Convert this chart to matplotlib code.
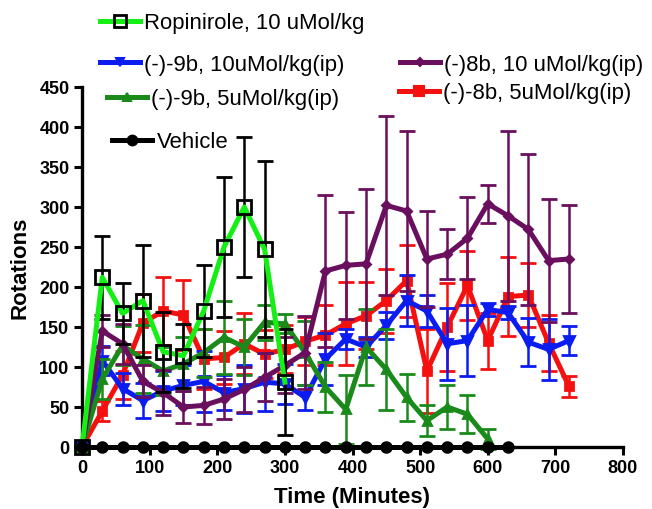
import numpy as np
import matplotlib
matplotlib.use("Agg")
import matplotlib.pyplot as plt
from matplotlib.lines import Line2D

plt.rcParams['font.family'] = ['Liberation Sans', 'DejaVu Sans']

# ---------------- data ----------------
t_full = [0, 30, 60, 90, 120, 150, 180, 210, 240, 270, 300, 330, 360, 390, 420,
          450, 480, 510, 540, 570, 600, 630, 660, 690, 720]
t_ropi = [0, 30, 60, 90, 120, 150, 180, 210, 240, 270, 300]
t_9b5 = [0, 30, 60, 90, 120, 150, 180, 210, 240, 270, 300, 330, 360, 390, 420,
         450, 480, 510, 540, 570, 600]
t_veh = [0, 30, 60, 90, 120, 150, 180, 210, 240, 270, 300, 330, 360, 390, 420,
         450, 480, 510, 540, 570, 600, 630]

ropi_mean = [0, 212, 167, 183, 119, 114, 170, 250, 300, 247, 81]
ropi_err = [0, 52, 38, 70, 50, 40, 57, 88, 88, 110, 66]

b9_10_mean = [0, 108, 73, 58, 70, 77, 82, 68, 73, 81, 79, 62, 110, 135, 125,
              152, 183, 170, 129, 133, 172, 168, 131, 122, 133]
b9_10_err = [0, 18, 20, 22, 25, 25, 38, 22, 30, 36, 25, 16, 33, 12, 12,
             17, 32, 20, 45, 44, 8, 8, 30, 38, 18]

b9_5_mean = [0, 85, 127, 110, 95, 104, 118, 137, 125, 156, 154, 118, 75, 47, 125,
             97, 62, 33, 50, 41, 10]
b9_5_err = [0, 25, 24, 43, 30, 34, 30, 46, 35, 22, 12, 40, 31, 43, 47,
            51, 29, 19, 27, 24, 12]

b8_10_mean = [0, 145, 129, 82, 68, 50, 52, 60, 72, 87, 102, 118, 220, 227, 229,
              302, 295, 235, 241, 261, 304, 289, 272, 233, 235]
b8_10_err = [0, 20, 25, 20, 28, 20, 23, 25, 28, 30, 35, 46, 95, 67, 94,
             112, 100, 60, 31, 51, 24, 106, 94, 77, 68]

b8_5_mean = [0, 45, 90, 155, 170, 165, 110, 112, 129, 116, 122, 132, 140, 154, 164,
             183, 208, 95, 150, 202, 133, 188, 190, 130, 76]
b8_5_err = [0, 12, 30, 36, 42, 44, 37, 33, 38, 30, 30, 30, 38, 52, 42,
            40, 45, 52, 55, 43, 35, 49, 40, 35, 13]

veh_mean = [0] * len(t_veh)

labels = ["Ropinirole, 10 uMol/kg", "(-)-9b, 10uMol/kg(ip)", "(-)-9b, 5uMol/kg(ip)",
          "Vehicle", "(-)8b, 10 uMol/kg(ip)", "(-)-8b, 5uMol/kg(ip)"]

x_ticks = [0, 100, 200, 300, 400, 500, 600, 700, 800]
y_ticks = [0, 50, 100, 150, 200, 250, 300, 350, 400, 450]

# ---------------- styles ----------------
C_ROPI = '#14f014'
C_B9_10 = '#0a1cf0'
C_B9_5 = '#1a8a1a'
C_B8_10 = '#6a0f5e'
C_B8_5 = '#f51010'

W, H = 652, 510
fig = plt.figure(figsize=(W / 100, H / 100), dpi=100)
ax = fig.add_axes([82 / W, 1 - 448 / H, (623 - 82) / W, (448 - 88) / H])

lw = 3.6
elw = 1.8
cs = 6

def eb(t, m, e, color, marker, ms, ecolor=None, mfc=None, mec=None, z=2, mew=2):
    ax.errorbar(t, m, yerr=e, color=color, lw=lw, marker=marker, ms=ms,
                mfc=mfc if mfc is not None else color,
                mec=mec if mec is not None else color, mew=mew,
                ecolor=ecolor if ecolor is not None else color,
                elinewidth=elw, capsize=cs, capthick=elw, clip_on=False, zorder=z)

eb(t_full, b8_5_mean, b8_5_err, C_B8_5, 's', 6, z=2)
eb(t_full, b9_10_mean, b9_10_err, C_B9_10, 'v', 7, z=3)
eb(t_9b5, b9_5_mean, b9_5_err, C_B9_5, '^', 6, z=4)
eb(t_full, b8_10_mean, b8_10_err, C_B8_10, 'D', 4, z=5)
eb(t_ropi, ropi_mean, ropi_err, C_ROPI, 's', 10, ecolor='black', mfc='none', mec='black', z=6)
eb(t_veh, veh_mean, [0] * len(t_veh), 'black', 'o', 7, z=7)

ax.set_xlim(0, 800)
ax.set_ylim(0, 450)
ax.set_xticks(x_ticks)
ax.set_yticks(y_ticks)
ax.set_xticklabels([str(v) for v in x_ticks], fontsize=13, fontweight='bold')
ax.set_yticklabels([str(v) for v in y_ticks], fontsize=13, fontweight='bold')
for s in ['top', 'right']:
    ax.spines[s].set_visible(False)
for s in ['left', 'bottom']:
    ax.spines[s].set_linewidth(2.4)
ax.tick_params(axis='both', width=2.2, length=6, pad=3)
ax.set_xlabel("Time (Minutes)", fontsize=16, fontweight='bold', labelpad=7)
ax.set_ylabel("Rotations", fontsize=16, fontweight='bold', labelpad=6)

# ---------------- legend (one entry each, Prism-style scattered) ----------------
FS = 15.9
def leg(label, color, marker, ms, x_px, y_px, length_px=40, mfc=None, mec=None, mew=1.5):
    h = Line2D([], [], color=color, lw=lw, marker=marker, ms=ms,
               mfc=mfc if mfc is not None else color,
               mec=mec if mec is not None else color, mew=mew)
    fig.legend(handles=[h], labels=[label], loc='center left',
               bbox_to_anchor=(x_px / W, 1 - y_px / H), frameon=False,
               fontsize=FS, handlelength=length_px / (FS * 100 / 72),
               handletextpad=0.2, borderpad=0, borderaxespad=0)

leg(labels[0], C_ROPI, 's', 8, 100, 24, mfc='none', mec='black', mew=2)
leg(labels[1], C_B9_10, 'v', 6, 100, 65)
leg(labels[2], C_B9_5, '^', 6, 107, 100)
leg(labels[3], 'black', 'o', 7, 112, 143)
leg(labels[4], C_B8_10, 'D', 4, 400, 65)
leg(labels[5], C_B8_5, 's', 7, 399, 94)

fig.savefig("out.png", dpi=100)
